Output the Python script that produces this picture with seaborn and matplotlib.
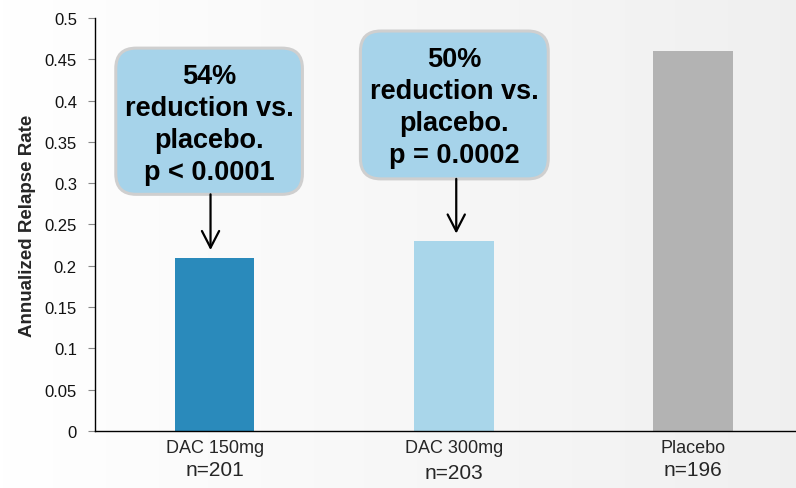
import numpy as np
import pandas as pd
import matplotlib
matplotlib.use("Agg")
import matplotlib.pyplot as plt
import seaborn as sns
from matplotlib.patches import FancyBboxPatch

categories = ["DAC 150mg", "DAC 300mg", "Placebo"]
rates = [0.21, 0.23, 0.46]
n_labels = ["n=201", "n=203", "n=196"]
colors = ["#2a8abb", "#a9d6ea", "#b3b3b3"]
callouts = ["54%\nreduction vs.\nplacebo.\np < 0.0001",
            "50%\nreduction vs.\nplacebo.\np = 0.0002"]
yticks = [0, 0.05, 0.1, 0.15, 0.2, 0.25, 0.3, 0.35, 0.4, 0.45, 0.5]
ytick_labels = ["0", "0.05", "0.1", "0.15", "0.2", "0.25", "0.3", "0.35", "0.4", "0.45", "0.5"]

sns.set_style("white")
plt.rcParams['font.family'] = ['Liberation Sans', 'DejaVu Sans']

df = pd.DataFrame({"cat": categories, "rate": rates})

fig = plt.figure(figsize=(7.96, 4.89), dpi=100)
# background gradient
bg = fig.add_axes([0, 0, 1, 1], zorder=-10)
grad = np.linspace(1.0, 0.94, 256).reshape(1, -1)
bg.imshow(np.dstack([grad, grad, grad]), aspect="auto", extent=[0, 1, 0, 1])
bg.axis("off")

ax = fig.add_axes([0.1193, 0.1166, 0.8807, 0.8446])
ax.set_facecolor("none")
sns.barplot(data=df, x="cat", y="rate", hue="cat", palette=colors,
            width=1/3, legend=False, ax=ax, saturation=1, linewidth=0)

ax.set_ylim(0, 0.5)
ax.set_xlim(-0.5, 2.43)
ax.set_yticks(yticks)
ax.set_yticklabels(ytick_labels, fontsize=12, color="#111111")
ax.tick_params(axis="y", length=5, width=0.8, color="#888888", left=True, pad=8)
ax.tick_params(axis="x", length=0, labelsize=13, pad=6)
ax.set_xlabel("")
ax.set_ylabel("Annualized Relapse Rate", fontsize=13.5, fontweight="bold", labelpad=6)
for s in ["top", "right"]:
    ax.spines[s].set_visible(False)
for s in ["left", "bottom"]:
    ax.spines[s].set_color("black")
    ax.spines[s].set_linewidth(1.0)

# n labels
n_offsets = [-27.5, -30, -27.5]
for i, t in enumerate(n_labels):
    ax.annotate(t, xy=(i, 0), xytext=(0, n_offsets[i]), textcoords="offset points",
                ha="center", va="center", fontsize=15, annotation_clip=False)

# callouts: (x offset from bar, y centre, width, height) in data units
box_specs = [(-0.023, 0.375, 0.78, 0.177), (0.002, 0.3947, 0.785, 0.179)]
arrow_dx = [-0.017, 0.01]
for i, txt in enumerate(callouts):
    dx, cy, bw, bh = box_specs[i]
    cx = i + dx
    patch = FancyBboxPatch((cx - bw / 2, cy - bh / 2), bw, bh,
                           boxstyle="round,pad=0,rounding_size=0.085",
                           mutation_aspect=0.29,
                           facecolor="#a6d3ea", edgecolor="#cfcfcf", linewidth=2.2,
                           zorder=5)
    ax.add_patch(patch)
    ax.text(cx, cy - 0.003, txt, ha="center", va="center", fontsize=19.5, fontweight="bold",
            linespacing=1.3, zorder=6, color="black")
    ax.annotate("", xy=(i + arrow_dx[i], rates[i] + 0.009),
                xytext=(i + arrow_dx[i], cy - bh / 2),
                arrowprops=dict(arrowstyle="->,head_length=1.2,head_width=0.62",
                                color="black", lw=1.6, shrinkA=0, shrinkB=0), zorder=6)

fig.savefig("out.png", dpi=100)
